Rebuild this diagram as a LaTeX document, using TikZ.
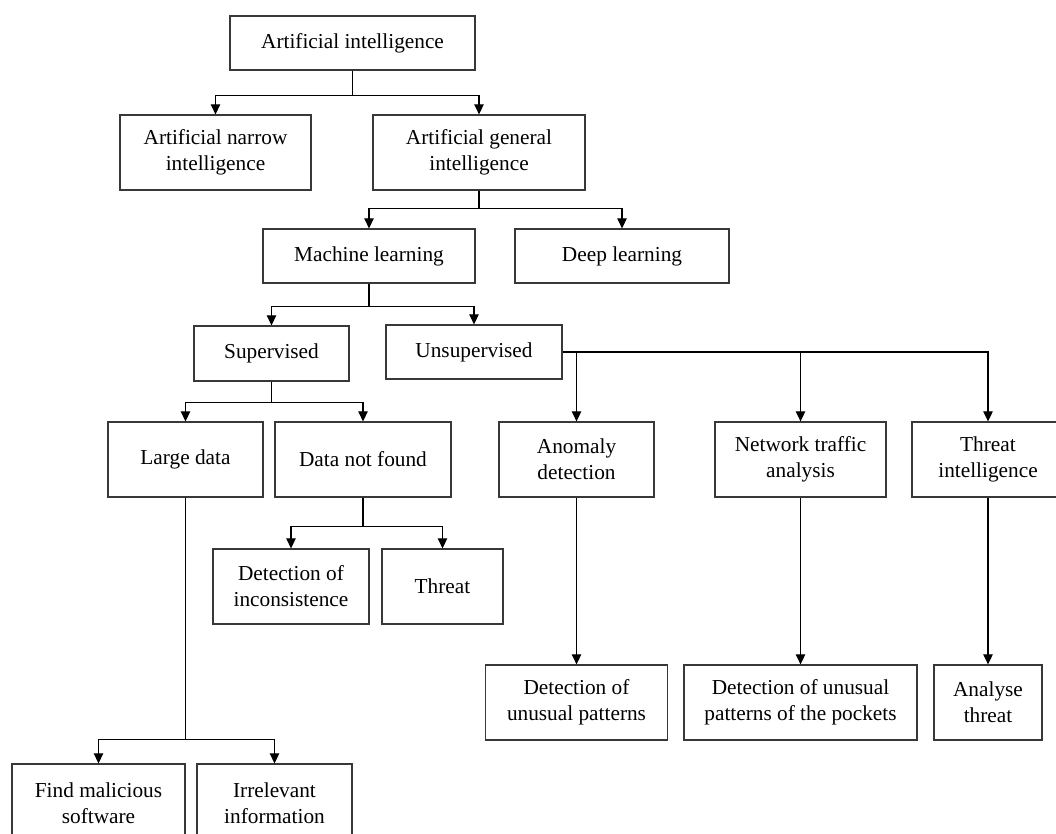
\documentclass[tikz,border=0pt]{standalone}
\usepackage{fontspec}
\setmainfont{Liberation Serif}
\usetikzlibrary{arrows.meta}
\begin{document}
\begin{tikzpicture}[x=1pt,y=-1pt,
  box/.style={draw=black!78,line width=1.3pt,inner sep=0pt,align=center,
    font=\fontsize{21.3}{26}\selectfont},
  arr/.style={draw=black,line width=1.2pt,-{Triangle[length=10pt,width=9.5pt]}},
  ln/.style={draw=black,line width=1.2pt}]
\clip (0,0) rectangle (1056,834);
\fill[white] (0,0) rectangle (1056,834);
% nodes
\node[box,minimum width=245,minimum height=54] (ai) at (352.5,43) {Artificial intelligence};
\node[box,minimum width=191,minimum height=75] (ani) at (215.5,152.5) {Artificial narrow\\intelligence};
\node[box,minimum width=212,minimum height=75] (agi) at (479,152.5) {Artificial general\\intelligence};
\node[box,minimum width=212,minimum height=54] (ml) at (369,256) {Machine learning};
\node[box,minimum width=214,minimum height=54] (dl) at (622,256) {Deep learning};
\node[box,minimum width=155,minimum height=55] (sup) at (271.5,353.5) {Supervised};
\node[box,minimum width=176,minimum height=54] (uns) at (474,352) {Unsupervised};
\node[box,minimum width=155,minimum height=75] (ld) at (185.5,459.5) {Large data};
\node[box,minimum width=176,minimum height=75] (dnf) at (363,459.5) {Data not found};
\node[box,minimum width=155,minimum height=75] (an) at (576.5,459.5) {Anomaly\\detection};
\node[box,minimum width=171,minimum height=75] (nta) at (800.5,459.5) {Network traffic\\analysis};
\node[box,minimum width=152,minimum height=75] (ti) at (988,459.5) {Threat\\intelligence};
\node[box,minimum width=156,minimum height=75] (doi) at (291,586.5) {Detection of\\inconsistence};
\node[box,minimum width=121,minimum height=75] (thr) at (442.5,586.5) {Threat};
\node[box,minimum width=182,minimum height=75] (dup) at (576.5,702.5) {Detection of\\unusual patterns};
\node[box,minimum width=233,minimum height=75] (dupp) at (800.5,702.5) {Detection of unusual\\patterns of the pockets};
\node[box,minimum width=108,minimum height=75] (at) at (988,702.5) {Analyse\\threat};
\node[box,minimum width=173,minimum height=79] (fms) at (98.5,803.5) {Find malicious\\software};
\node[box,minimum width=155,minimum height=79] (irr) at (274.5,803.5) {Irrelevant\\information};
% connectors
\draw[arr] (ai.south) -- ++(0,25) -| (ani.north);
\draw[arr] (ai.south) -- ++(0,25) -| (agi.north);
\draw[arr] (agi.south) -- ++(0,18) -| (ml.north);
\draw[arr] (agi.south) -- ++(0,18) -| (dl.north);
\draw[arr] (ml.south) -- ++(0,23) -| (sup.north);
\draw[arr] (ml.south) -- ++(0,23) -| (uns.north);
\draw[arr] (sup.south) -- ++(0,21) -| (ld.north);
\draw[arr] (sup.south) -- ++(0,21) -| (dnf.north);
\draw[arr] (dnf.south) -- ++(0,29) -| (doi.north);
\draw[arr] (dnf.south) -- ++(0,29) -| (thr.north);
\draw[arr] (ld.south) -- ++(0,242) -| (fms.north);
\draw[arr] (ld.south) -- ++(0,242) -| (irr.north);
\draw[arr] (uns.east) -| (an.north);
\draw[arr] (uns.east) -| (nta.north);
\draw[arr] (uns.east) -| (ti.north);
\draw[arr] (an.south) -- (dup.north);
\draw[arr] (nta.south) -- (dupp.north);
\draw[arr] (ti.south) -- (at.north);
\end{tikzpicture}
\end{document}
